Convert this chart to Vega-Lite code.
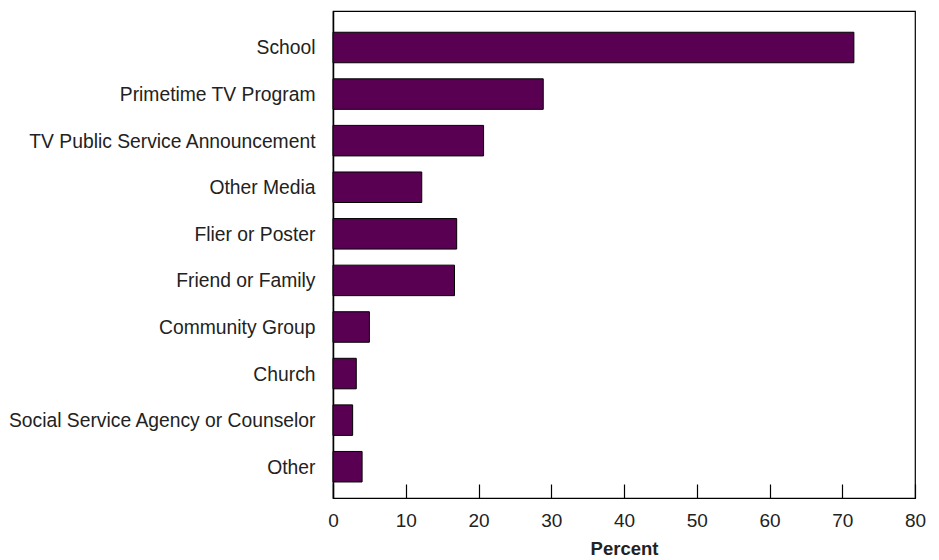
{
  "$schema": "https://vega.github.io/schema/vega-lite/v6.json",
  "autosize": {"type": "none"},
  "padding": {"left": 333, "top": 11, "right": 24, "bottom": 62},
  "width": 582,
  "height": 487,
  "background": "white",
  "config": {
    "font": "Liberation Sans",
    "view": {"stroke": "black", "strokeWidth": 1.2}
  },
  "data": {
    "values": [
      {"source": "School", "percent": 71.6},
      {"source": "Primetime TV Program", "percent": 28.9},
      {"source": "TV Public Service Announcement", "percent": 20.7},
      {"source": "Other Media", "percent": 12.2},
      {"source": "Flier or Poster", "percent": 17.0},
      {"source": "Friend or Family", "percent": 16.7},
      {"source": "Community Group", "percent": 5.0},
      {"source": "Church", "percent": 3.2},
      {"source": "Social Service Agency or Counselor", "percent": 2.7},
      {"source": "Other", "percent": 4.0}
    ]
  },
  "mark": {"type": "bar", "color": "#5a0052", "stroke": "black", "strokeWidth": 1},
  "encoding": {
    "y": {
      "field": "source",
      "type": "nominal",
      "sort": null,
      "scale": {"paddingInner": 0.345, "paddingOuter": 0.4, "align": 0.57},
      "axis": {
        "title": null,
        "ticks": false,
        "domain": true,
        "domainColor": "black",
        "domainWidth": 1.5,
        "labelFont": "Liberation Sans",
        "labelFontSize": 19.3,
        "labelColor": "#222222",
        "labelPadding": 18,
        "labelLimit": 400,
        "labelOffset": 1
      }
    },
    "x": {
      "field": "percent",
      "type": "quantitative",
      "scale": {"domain": [0, 80], "nice": false},
      "axis": {
        "title": "Percent",
        "titleFont": "Liberation Sans",
        "titleFontSize": 18.5,
        "titleFontWeight": "bold",
        "titleColor": "#222222",
        "titlePadding": 9,
        "values": [0, 10, 20, 30, 40, 50, 60, 70, 80],
        "grid": false,
        "domainColor": "black",
        "domainWidth": 1.2,
        "tickColor": "black",
        "tickWidth": 1.2,
        "tickSize": -14,
        "labelFont": "Liberation Sans",
        "labelFontSize": 19,
        "labelColor": "#222222",
        "labelPadding": 27,
        "labelFlush": false
      }
    }
  }
}
